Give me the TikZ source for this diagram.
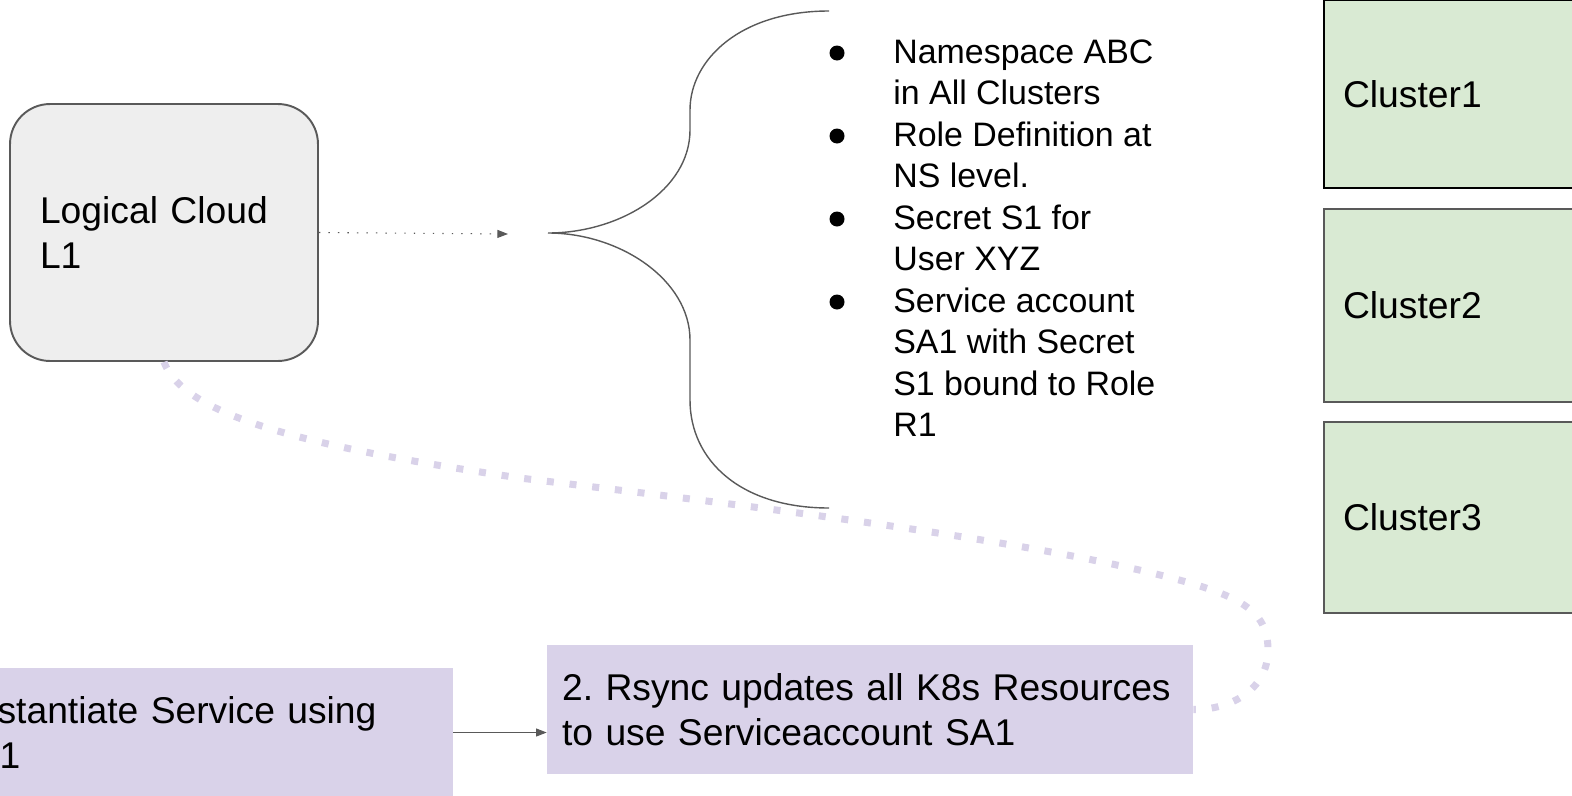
\documentclass[tikz,border=0pt]{standalone}
\usepackage{fontspec}
\setmainfont{Liberation Sans}
\usetikzlibrary{arrows.meta}
\frenchspacing

\definecolor{boxgray}{HTML}{EEEEEE}
\definecolor{linegray}{HTML}{595959}
\definecolor{lilac}{HTML}{D9D2E9}
\definecolor{mint}{HTML}{D9EAD3}

\tikzset{
  cloudbox/.style={draw=linegray, line width=1.1pt, fill=boxgray, rounded corners=0.8cm,
    minimum height=5.14cm, text width=4.96cm, inner xsep=0.6cm, align=left},
  stepbox/.style={fill=lilac, minimum height=2.58cm, inner xsep=0.3cm, align=left},
  clusterbox/.style={draw=linegray, line width=1.1pt, fill=mint, text width=5.24cm,
    inner xsep=0.38cm, align=left},
  itemtext/.style={anchor=base west, inner sep=0pt, font=\fontsize{19.3}{23}\selectfont},
  bullet/.style={circle, fill=black, inner sep=0pt, minimum size=0.3cm},
  arr/.style={-{Triangle[length=6pt,width=4.5pt]}, draw=linegray, line width=0.6pt},
  lilacdots/.style={draw=lilac, line width=4pt, dash pattern=on 4pt off 9pt},
}

\begin{document}
\begin{tikzpicture}[x=0.02cm, y=-0.02cm, font=\fontsize{21.2}{25.5}\selectfont]
	\useasboundingbox (0,0) rectangle (1572,795);
	\clip (0,0) rectangle (1572,795);

	% left side
	\node[cloudbox] (lc) at (164,232.5) {Logical Cloud\\L1};
	\coordinate (arrowend) at (508,234);
	\draw[arr, dash pattern=on 0.8pt off 4.6pt] (lc.east) -- (arrowend);

	% brace
	\coordinate (tip) at (548,233);
	\draw[linegray, line width=0.8pt] (829,11) .. controls (740,11) and (690,60) .. (690,110)
		-- (690,130) .. controls (690,190) and (620,233) .. (tip)
		.. controls (620,233) and (690,280) .. (690,340)
		-- (690,400) .. controls (690,460) and (740,508) .. (829,508);

	% list
	\foreach \y [count=\i] in {53,136,219,302}
		\node[bullet] (b\i) at (837,\y) {};
	\foreach \txt [count=\i] in {Namespace ABC, in All Clusters, Role Definition at, NS level.,
		Secret S1 for, User XYZ, Service account, SA1 with Secret, S1 bound to Role, R1}
		\node[itemtext] (line\i) at (893,{63+41.5*(\i-1)}) {\txt};

	% clusters
	\node[clusterbox, draw=black, minimum height=3.76cm] (c1) at (1474,94) {Cluster1};
	\node[clusterbox, minimum height=3.86cm] (c2) at (1474,305.5) {Cluster2};
	\node[clusterbox, minimum height=3.82cm] (c3) at (1474,517.5) {Cluster3};

	% bottom row
	\node[stepbox, text width=10.3cm] (inst) at (180.5,732.5) {1. Instantiate Service using\\SVC1};
	\node[stepbox, text width=12.32cm] (rsync) at (870,709.5) {2. Rsync updates all K8s Resources\\to use Serviceaccount SA1};
	\draw[arr] (inst.east) -- (inst.east -| rsync.west);

	\draw[lilacdots] (lc.south) .. controls (185,420) and (330,450) .. (520,478)
		.. controls (700,500) and (1000,535) .. (1160,575)
		.. controls (1240,595) and (1268,610) .. (1268,650)
		.. controls (1268,690) and (1230,710) .. (rsync.east);
\end{tikzpicture}
\end{document}
